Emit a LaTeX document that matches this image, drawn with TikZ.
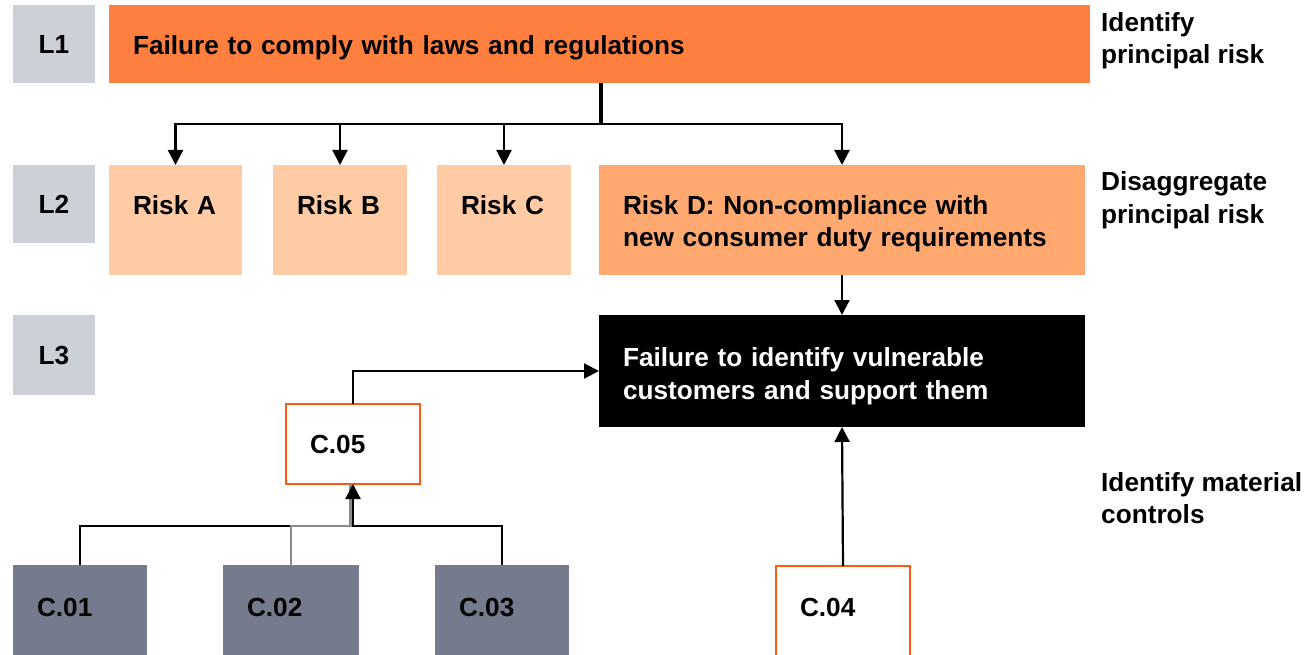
\documentclass[tikz,border=0pt]{standalone}
\usepackage{fontspec}
\setmainfont{Liberation Sans}
\usetikzlibrary{arrows.meta}
\definecolor{topor}{HTML}{FF7F3F}
\definecolor{peach}{HTML}{FFCBA4}
\definecolor{riskd}{HTML}{FFA870}
\definecolor{lgray}{HTML}{CCD0D7}
\definecolor{cdark}{HTML}{737B8C}
\definecolor{cedge}{HTML}{FF5A12}
\definecolor{cgray}{HTML}{8A8A8A}
\begin{document}
\begin{tikzpicture}[x=1pt,y=-1pt,
  every node/.style={font=\fontsize{26.2}{32.5}\selectfont\bfseries},
  box/.style={anchor=north west, inner sep=0pt, inner xsep=24pt, outer sep=0pt, align=left, text depth=0pt},
  rbox/.style={box, text height=19pt, text depth=30pt},
  cbox/.style={box, text depth=6pt},
  lvl/.style={anchor=north west, inner sep=0pt, outer sep=0pt, fill=lgray, minimum width=82, minimum height=78},
  side/.style={anchor=west, inner sep=0pt, align=left},
  conn/.style={line width=2.2pt},
  arr/.style={conn, -{Triangle[length=15pt,width=15pt]}}]
\useasboundingbox (0,0) rectangle (1309,655);
\clip (0,0) rectangle (1309,655);
% level labels
\node[lvl] (l1) at (13,5) {L1};
\node[lvl] (l2) at (13,165) {L2};
\node[lvl, minimum height=80] (l3) at (13,315) {L3};
% L1
\node[box, fill=topor, text width=933, minimum height=78, text height=21pt] (top) at (109,5) {Failure to comply with laws and regulations};
% L2
\node[rbox, fill=peach, text width=85, minimum height=110] (ra) at (109,165) {Risk A};
\node[rbox, fill=peach, text width=86, minimum height=110] (rb) at (273,165) {Risk B};
\node[rbox, fill=peach, text width=86, minimum height=110] (rc) at (437,165) {Risk C};
\node[rbox, fill=riskd, text width=438, minimum height=110] (rd) at (599,165) {Risk D: Non-compliance with\\new consumer duty requirements};
% L3
\node[rbox, fill=black, text=white, text width=438, minimum height=112, text depth=28pt] (blk) at (599,315) {Failure to identify vulnerable\\customers and support them};
% controls
\node[box, draw=cedge, line width=2pt, fill=white, text width=86, minimum height=80] (c5) at (286,404) {C.05};
\node[cbox, fill=cdark, text width=86, minimum height=90] (c1) at (13,565) {C.01};
\node[cbox, fill=cdark, text width=88, minimum height=90] (c2) at (223,565) {C.02};
\node[cbox, fill=cdark, text width=86, minimum height=90] (c3) at (435,565) {C.03};
\node[cbox, draw=cedge, line width=2pt, fill=white, text width=86, minimum height=92, text depth=9pt] (c4) at (776,566) {C.04};
% side texts
\node[side] (s1) at (1101,40.5) {Identify\\principal risk};
\node[side] (s2) at (1101,200) {Disaggregate\\principal risk};
\node[side] (s3) at (1101,498) {Identify material\\controls};
% connectors
\coordinate (hub) at (601,124);
\draw[line width=4pt] (top.south -| hub) -- (hub);
\draw[arr] (hub) -| (ra.north);
\draw[arr] (hub) -| (rb.north);
\draw[arr] (hub) -| (rc.north);
\draw[arr] (hub) -| (rd.north);
\draw[arr] (rd.south) -- (blk.north);
\draw[arr] (c4.north) -- (blk.south);
\draw[arr] (c5.north) |- (blk.west);
\coordinate (j) at (352,526);
\draw[conn] (c1.north) |- (j);
\draw[conn, cgray] (c2.north) |- ([xshift=-1.5pt]j) -- ([xshift=-1.5pt]j |- c5.south);
\draw[arr] (c3.north) |- ([xshift=1pt]j) -- ([xshift=1pt]j |- c5.south);
\end{tikzpicture}
\end{document}
